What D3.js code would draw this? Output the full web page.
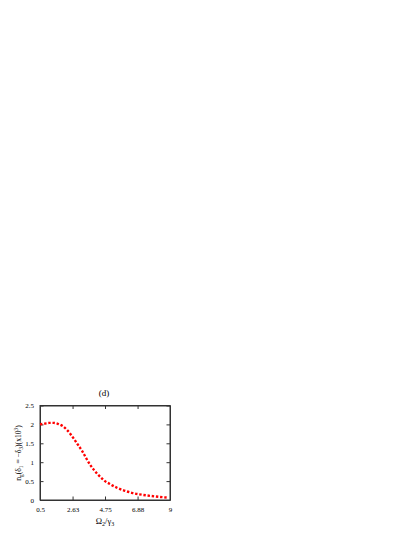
<!DOCTYPE html>
<html><head><meta charset="utf-8">
<script src="https://cdn.jsdelivr.net/npm/d3@7"></script>
<style>body{margin:0;background:#fff}svg{display:block}text{font-family:"Liberation Serif","Times New Roman",serif;fill:#000}</style>
</head><body>
<script>
const xVals = [0.5,0.8,1.1,1.4,1.7,2.0,2.25,2.5,2.75,3.0,3.25,3.5,3.75,4.0,4.25,4.5,4.75,5.0,5.5,6.0,6.5,7.0,7.5,8.0,8.5,8.8];
const yVals = [2.00,2.02,2.04,2.04,2.01,1.95,1.86,1.74,1.60,1.45,1.30,1.12,0.95,0.81,0.69,0.59,0.50,0.44,0.33,0.25,0.19,0.15,0.12,0.095,0.075,0.065];
const xTicks = [0.5,2.63,4.75,6.88,9];
const xTickLabels = ["0.5","2.63","4.75","6.88","9"];
const yTicks = [0,0.5,1,1.5,2,2.5];
const yTickLabels = ["0","0.5","1","1.5","2","2.5"];

const W=415,H=537;
const L=40,R=170,T=405.5,B=500;
const svg=d3.select("body").append("svg").attr("width",W).attr("height",H);
const x=d3.scaleLinear().domain([0.5,9]).range([L,R]);
const y=d3.scaleLinear().domain([0,2.5]).range([B,T]);

svg.append("rect").attr("x",L).attr("y",T).attr("width",R-L).attr("height",B-T)
  .attr("fill","none").attr("stroke","#333").attr("stroke-width",1);

const fmtX=(d,i)=>xTickLabels[i], fmtY=(d,i)=>yTickLabels[i];
const gB=svg.append("g").attr("transform",`translate(0,${B})`)
  .call(d3.axisBottom(x).tickValues(xTicks).tickFormat(fmtX).tickSizeInner(-3.5).tickSizeOuter(0).tickPadding(7));
const gT=svg.append("g").attr("transform",`translate(0,${T})`)
  .call(d3.axisTop(x).tickValues(xTicks).tickFormat("").tickSizeInner(-3.5).tickSizeOuter(0));
const gL=svg.append("g").attr("transform",`translate(${L},0)`)
  .call(d3.axisLeft(y).tickValues(yTicks).tickFormat(fmtY).tickSizeInner(-3.5).tickSizeOuter(0).tickPadding(6));
const gR=svg.append("g").attr("transform",`translate(${R},0)`)
  .call(d3.axisRight(y).tickValues(yTicks).tickFormat("").tickSizeInner(-3.5).tickSizeOuter(0));
[gB,gT,gL,gR].forEach(g=>{
  g.select(".domain").attr("stroke","#333");
  g.selectAll(".tick line").attr("stroke","#333");
  g.selectAll("text").style("font-family","'Liberation Serif',serif").style("font-size","7px").attr("fill","#000");
});

const data=xVals.map((v,i)=>[v,yVals[i]]);
svg.append("path").datum(data)
  .attr("d",d3.line().x(d=>x(d[0])).y(d=>y(d[1])).curve(d3.curveMonotoneX))
  .attr("fill","none").attr("stroke","#ff0000").attr("stroke-width",2.4)
  .attr("stroke-dasharray","2.4 1.8");

svg.append("text").attr("x",104).attr("y",396).attr("text-anchor","middle")
  .style("font-size","9px").text("(d)");

const xl=svg.append("text").attr("x",105).attr("y",524).attr("text-anchor","middle").style("font-size","8.5px");
xl.append("tspan").text("Ω");
xl.append("tspan").attr("dy",2).style("font-size","6px").text("2");
xl.append("tspan").attr("dy",-2).text("/γ");
xl.append("tspan").attr("dy",2).style("font-size","6px").text("3");

const yl=svg.append("text").attr("transform","translate(21,453) rotate(-90)").attr("text-anchor","middle").style("font-size","7.6px");
yl.append("tspan").text("n");
yl.append("tspan").attr("dy",2).style("font-size","5.3px").text("g");
yl.append("tspan").attr("dy",-2).text("(δ");
yl.append("tspan").attr("dy",2).style("font-size","5.3px").text("1");
yl.append("tspan").attr("dy",-2).text(" = −δ");
yl.append("tspan").attr("dy",2).style("font-size","5.3px").text("3");
yl.append("tspan").attr("dy",-2).text(")(x10");
yl.append("tspan").attr("dy",-3).style("font-size","5.3px").text("3");
yl.append("tspan").attr("dy",3).text(")");
</script>
</body></html>
